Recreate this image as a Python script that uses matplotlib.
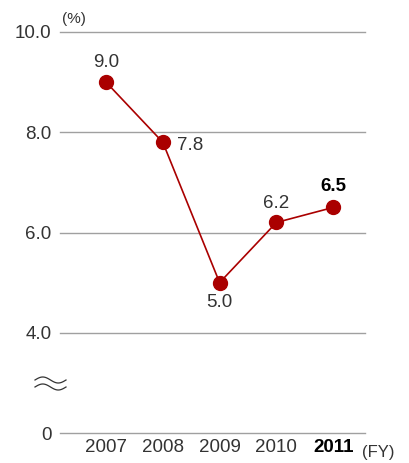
import numpy as np
import matplotlib
matplotlib.use("Agg")
import matplotlib.pyplot as plt

plt.rcParams['font.family'] = ['Liberation Sans', 'DejaVu Sans']

years = ['2007', '2008', '2009', '2010', '2011']
ratio = [9.0, 7.8, 5.0, 6.2, 6.5]
label_text = ['9.0', '7.8', '5.0', '6.2', '6.5']
# where each value label sits relative to its point (dx, dy in points)
label_pos = [(0, 14), (20, -2), (0, -14), (0, 14), (0, 15)]

ytick_vals = [2, 4, 6, 8, 10]          # 2 stands in for the broken-axis zero
ytick_labels = ['0', '4.0', '6.0', '8.0', '10.0']

red = '#AA0000'
txt = '#333333'
grid = '#a0a0a0'
fs = 13.5

W, H = 410, 463
fig = plt.figure(figsize=(W / 100, H / 100), dpi=100)
ax = fig.add_axes([60 / W, 1 - 433 / H, 305 / W, 401 / H])

x = np.arange(len(years))
ax.set_xlim(-0.81, 4.56)
ax.set_ylim(2, 10)

for v in ytick_vals:
    ax.axhline(v, color=grid, lw=1.0, zorder=1, clip_on=False)

ax.plot(x, ratio, color=red, lw=1.2, marker='o', ms=10,
        markerfacecolor=red, markeredgecolor=red, zorder=3, clip_on=False)

for i, (t, (dx, dy)) in enumerate(zip(label_text, label_pos)):
    bold = i == len(years) - 1
    ax.annotate(t, (x[i], ratio[i]), xytext=(dx, dy), textcoords='offset points',
                ha='center', va='center', fontsize=fs,
                color='black' if bold else txt,
                fontweight='bold' if bold else 'normal')

for s in ax.spines.values():
    s.set_visible(False)
ax.tick_params(length=0)
ax.set_yticks(ytick_vals)
ax.set_yticklabels(ytick_labels, fontsize=fs, color=txt)
ax.tick_params(axis='y', pad=6)
ax.set_xticks(x)
ax.set_xticklabels(years, fontsize=fs, color=txt)
ax.get_xticklabels()[-1].set_fontweight('bold')
ax.get_xticklabels()[-1].set_color('black')
ax.tick_params(axis='x', pad=4)

fig.text(62 / W, 1 - 19 / H, '(%)', fontsize=11, color=txt, ha='left', va='center')
fig.text(362 / W, 1 - 452 / H, '(FY)', fontsize=12, color=txt, ha='left', va='center')

# axis-break mark
sx = np.linspace(35, 66, 60)
for y0 in (380, 387):
    sy = y0 - 3 * np.sin((sx - 35) / 31 * 2 * np.pi)
    fig.add_artist(plt.Line2D(sx / W, 1 - sy / H, color=txt, lw=0.9))

fig.savefig('out.png', dpi=100)
